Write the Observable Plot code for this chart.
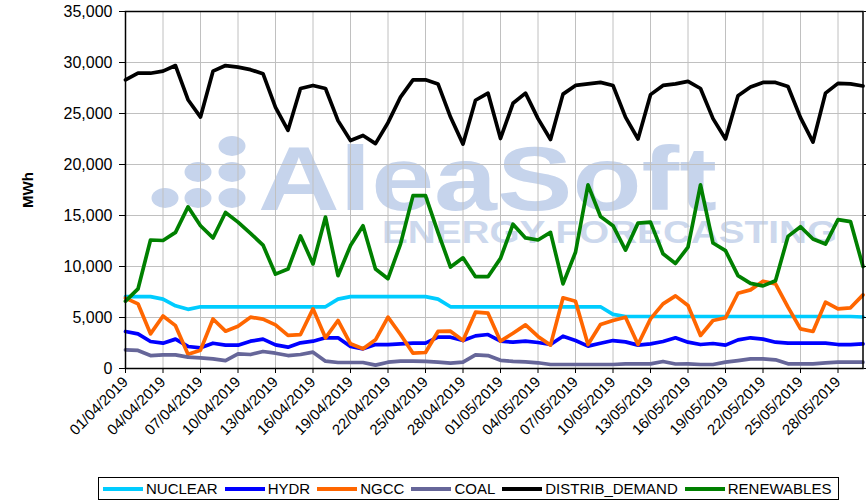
<!DOCTYPE html>
<html><head><meta charset="utf-8">
<script src="https://cdn.jsdelivr.net/npm/d3@7"></script>
<script src="https://cdn.jsdelivr.net/npm/@observablehq/plot@0.6"></script>
<style>
body{margin:0;background:#fff;font-family:"Liberation Sans",Arial,sans-serif;}
#wrap{position:relative;width:866px;height:502px;overflow:hidden;background:#fff;}
#wm{position:absolute;left:0;top:0;}
#chart{position:absolute;left:0;top:0;}
#legend{position:absolute;left:98px;top:477px;height:23px;box-sizing:border-box;border:1px solid #000;display:flex;align-items:center;gap:7px;padding:0 7px 0 4px;font-size:15px;color:#000;background:#fff;white-space:nowrap;}
.item{display:flex;align-items:center;gap:3px;}
.item svg{display:block;}
</style></head>
<body>
<div id="wrap">
<svg id="wm" width="866" height="502">
  <g fill="#c6d4ec">
    <ellipse cx="232" cy="146" rx="13.5" ry="10"/>
    <ellipse cx="198" cy="172" rx="13.5" ry="10"/>
    <ellipse cx="232" cy="172" rx="13.5" ry="10"/>
    <ellipse cx="165" cy="198" rx="13.5" ry="10"/>
    <ellipse cx="198" cy="198" rx="13.5" ry="10"/>
    <ellipse cx="232" cy="198" rx="13.5" ry="10"/>
    <text x="258" y="210" font-family="Liberation Sans, Arial, sans-serif" font-size="91" font-weight="bold" textLength="459" lengthAdjust="spacingAndGlyphs">AleaSoft</text>
  </g>
  <text x="382" y="243" fill="#ccd8ed" font-family="Liberation Sans, Arial, sans-serif" font-size="32" font-weight="bold" textLength="455" lengthAdjust="spacingAndGlyphs">ENERGY FORECASTING</text>
</svg>
<div id="chart"></div>
<div id="legend"></div>
</div>
<script>
const seriesNames = ["NUCLEAR","HYDR","NGCC","COAL","DISTRIB_DEMAND","RENEWABLES"];
const seriesColors = ["#00ccff","#0000ff","#ff6600","#666699","#000000","#008000"];

const startDate = new Date(Date.UTC(2019,3,1));
const endDate = new Date(Date.UTC(2019,4,31));
const dates = d3.utcDay.range(startDate, endDate); // 01/04/2019 .. 30/05/2019

const nuclear = [7050,7050,7050,6800,6150,5800,6050,6050,6050,6050,
  6050,6050,6050,6050,6050,6050,6050,6800,7050,7050,
  7050,7050,7050,7050,7050,6800,6050,6050,6050,6050,
  6050,6050,6050,6050,6050,6050,6050,6050,6050,5300,
  5100,5100,5100,5100,5100,5100,5100,5100,5100,5100,
  5100,5100,5100,5100,5100,5100,5100,5100,5100,5050];
const hydr = [3630,3400,2650,2480,2880,2160,2030,2480,2290,2290,
  2680,2880,2320,2090,2520,2680,3010,3010,2160,1930,
  2350,2350,2420,2480,2480,3070,3070,2740,3200,3330,
  2680,2580,2680,2550,2350,3170,2740,2190,2480,2740,
  2610,2290,2420,2650,3010,2580,2350,2450,2290,2810,
  3010,2880,2580,2480,2480,2480,2480,2350,2350,2420];
const ngcc = [6900,6340,3400,5150,4200,1400,1800,4850,3660,4150,
  5030,4840,4280,3240,3330,5850,3010,4710,2420,1930,
  2810,5030,3330,1500,1570,3630,3660,2740,5520,5420,
  2680,3460,4280,3140,2290,6930,6600,2350,4310,4710,
  5030,2350,4870,6340,7120,6180,3240,4710,4970,7380,
  7710,8560,8300,6010,3890,3630,6500,5850,5950,7220];
const coal = [1830,1770,1270,1340,1340,1110,1050,950,780,1440,
  1370,1670,1500,1270,1370,1600,720,590,590,590,
  330,620,720,720,690,620,520,620,1340,1270,
  800,690,650,560,390,390,390,390,390,390,
  460,460,460,690,440,460,390,390,620,780,
  950,950,850,460,460,460,560,620,620,620];
const demand = [28300,28950,28950,29150,29700,26350,24650,29150,29700,29550,
  29300,28900,25600,23350,27450,27750,27450,24300,22350,22850,
  22050,24100,26600,28300,28300,27900,24650,22000,26300,27000,
  22550,26000,27000,24500,22450,26900,27750,27900,28050,27750,
  24650,22500,26850,27750,27900,28150,27450,24500,22500,26750,
  27600,28050,28050,27650,24600,22200,27000,27950,27900,27700];
const renewables = [6600,7800,12600,12550,13350,15850,14000,12800,15300,14350,
  13250,12100,9250,9750,13000,10250,14850,9100,12050,14000,
  9750,8800,12200,16950,16950,13350,9950,10850,9000,9000,
  10800,14150,12800,12600,13350,8300,11400,18000,14900,14000,
  11600,14250,14350,11250,10300,11900,18000,12300,11550,9100,
  8350,8100,8600,12950,13900,12700,12200,14600,14400,10000];

const yTicks = [0,5000,10000,15000,20000,25000,30000,35000];
const xTicks = dates.filter((d,i) => i % 3 === 0);

const seriesValues = [nuclear, hydr, ngcc, coal, demand, renewables];
const rows = [];
seriesNames.forEach((name, s) => {
  dates.forEach((d, i) => rows.push({series: name, date: d, value: seriesValues[s][i]}));
});

const chart = Plot.plot({
  width: 866,
  height: 475,
  marginLeft: 125,
  marginTop: 11,
  marginRight: 3.5,
  marginBottom: 107,
  style: {background: "transparent", fontFamily: "Liberation Sans, Arial, sans-serif", fontSize: "15px", color: "#000"},
  x: {type: "utc", domain: [dates[0], dates[dates.length - 1]]},
  y: {domain: [0, 35000]},
  color: {domain: seriesNames, range: seriesColors},
  marks: [
    Plot.gridY(yTicks, {stroke: "#c0c0c0", strokeOpacity: 1, strokeWidth: 1}),
    Plot.gridX(xTicks, {stroke: "#c0c0c0", strokeOpacity: 1, strokeWidth: 1}),
    Plot.line(rows, {x: "date", y: "value", z: "series", stroke: "series", strokeWidth: 3.7}),
    Plot.frame({stroke: "#000", strokeWidth: 1.5}),
    Plot.axisY(yTicks, {tickFormat: d3.format(","), tickSize: 6, tickPadding: 7, fontSize: 16, label: null}),
    Plot.axisY(yTicks, {anchor: "right", tickFormat: () => "", tickSize: 4, label: null}),
    Plot.axisY({ticks: [], label: "MWh", labelAnchor: "center", labelOffset: 103, labelArrow: "none", fontWeight: "bold", fontSize: 15}),
    Plot.axisX(xTicks, {tickFormat: d3.utcFormat("%d/%m/%Y"), tickRotate: -45, tickSize: 5, tickPadding: 6, label: null, fontSize: 15})
  ]
});
document.getElementById("chart").appendChild(chart);

const legend = document.getElementById("legend");
seriesNames.forEach((name, i) => {
  const item = document.createElement("div");
  item.className = "item";
  item.innerHTML = `<svg width="40" height="6"><line x1="0" y1="3" x2="40" y2="3" stroke="${seriesColors[i]}" stroke-width="4"/></svg><span>${name}</span>`;
  legend.appendChild(item);
});
</script>
</body></html>
